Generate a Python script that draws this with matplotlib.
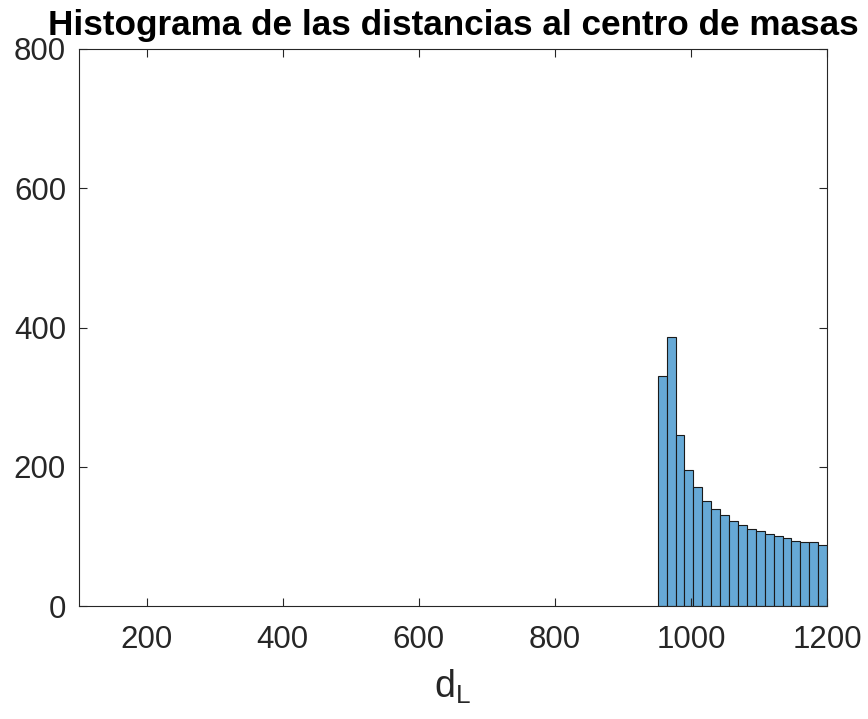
import numpy as np
import matplotlib.pyplot as plt

plt.rcParams['font.family'] = ['Liberation Sans', 'DejaVu Sans']

# histogram bins (distance to centre of mass) and counts
bin_start = 950.9
bin_width = 13.1
counts = [331, 387, 245, 196, 171, 151, 139, 131, 122, 116, 110, 108,
          103, 100, 98, 93, 92, 92, 88]

edges = bin_start + bin_width * np.arange(len(counts) + 1)

fig = plt.figure(figsize=(8.68, 7.19), dpi=100)
ax = fig.add_axes([78.5 / 868, 1 - 606 / 719, (827.3 - 78.5) / 868, (606 - 49) / 719])

ax.bar(edges[:-1], counts, width=bin_width, align='edge', facecolor='#66a9d6',
       edgecolor='#1a1a1a', linewidth=0.8)

ax.set_xlim(100, 1200)
ax.set_ylim(0, 800)
ax.set_xticks([200, 400, 600, 800, 1000, 1200])
ax.set_yticks([0, 200, 400, 600, 800])

axis_color = '#262626'
for s in ax.spines.values():
    s.set_color(axis_color)
    s.set_linewidth(0.8)
ax.tick_params(direction='in', length=6, width=0.8, colors=axis_color,
               labelsize=22.5, top=True, right=True)
ax.tick_params(axis='x', pad=14)
ax.tick_params(axis='y', pad=9)

ax.set_xlabel(r'd$_\mathregular{L}$', fontsize=27, color=axis_color, labelpad=9)
ax.set_title('Histograma de las distancias al centro de masas', fontsize=25.3,
             fontweight='bold', color='black', pad=10)

fig.savefig('out.png', dpi=100)
